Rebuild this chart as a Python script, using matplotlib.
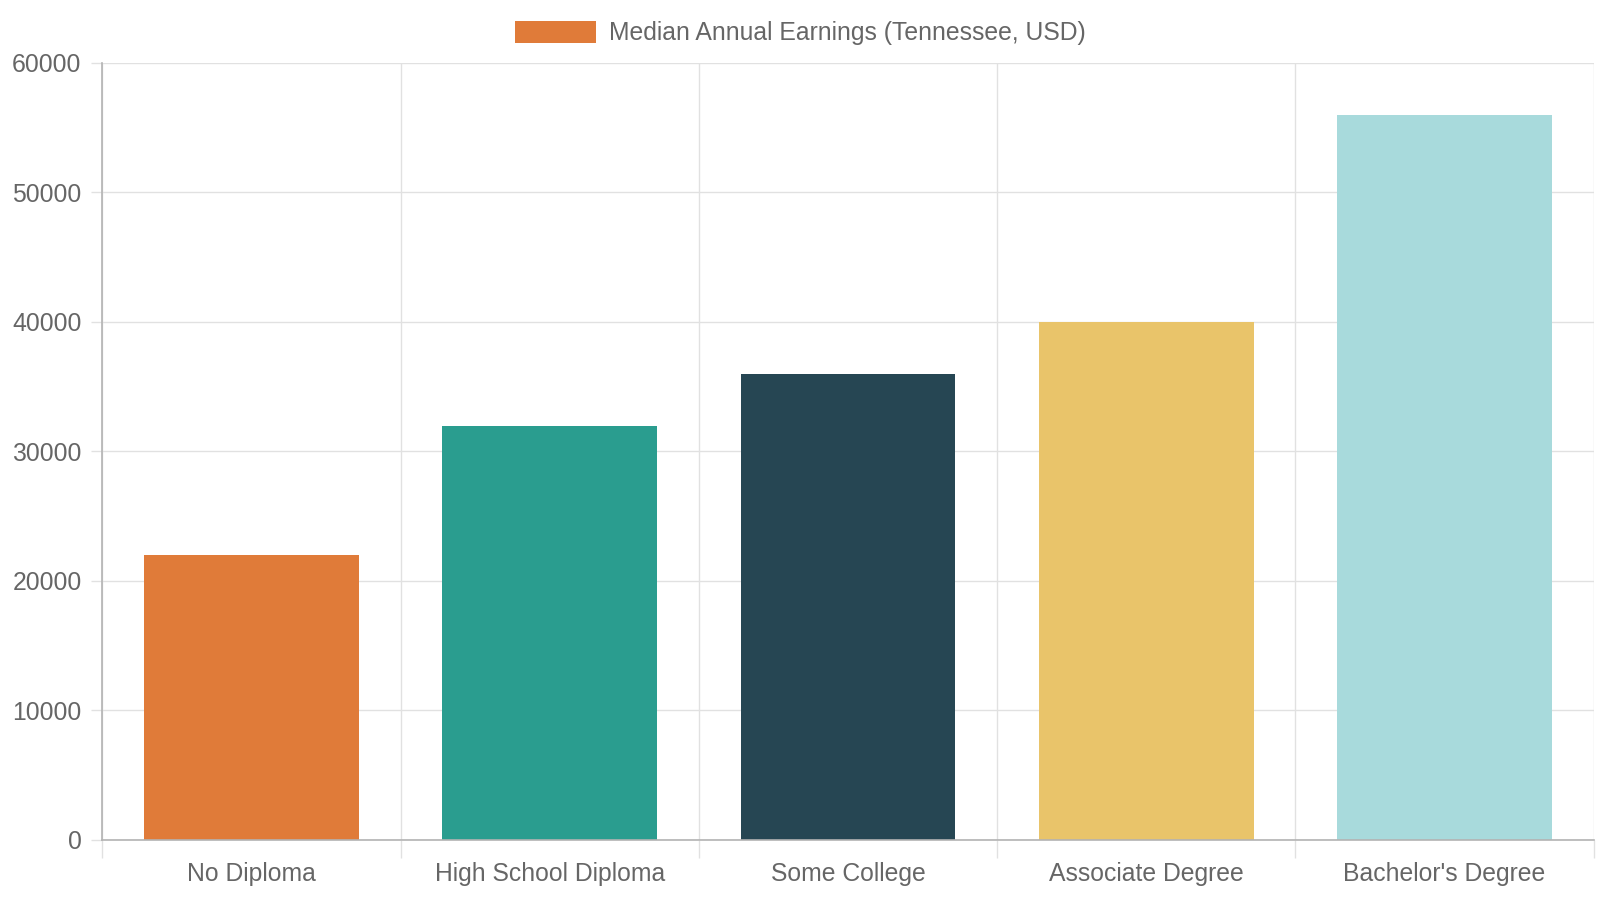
import matplotlib.pyplot as plt
from matplotlib.patches import Patch

categories = ["No Diploma", "High School Diploma", "Some College", "Associate Degree", "Bachelor's Degree"]
earnings = [22000, 32000, 36000, 40000, 56000]
colors = ["#E07B39", "#2A9D8F", "#264653", "#E9C46A", "#A8DADC"]
series_label = "Median Annual Earnings (Tennessee, USD)"
y_ticks = [0, 10000, 20000, 30000, 40000, 50000, 60000]

plt.rcParams['font.family'] = ['Liberation Sans', 'DejaVu Sans']
txt = "#666666"
grid = "#e1e1e1"
axis_c = "#b3b3b3"
fs = 17.8

fig = plt.figure(figsize=(16, 9), dpi=100)
ax = fig.add_axes([0.064, 0.0667, 0.932, 0.8633])

x = range(len(categories))
ax.bar(x, earnings, width=0.72, color=colors, zorder=3)

ax.set_xlim(-0.5, len(categories) - 0.5)
ax.set_ylim(0, 60000)

ax.set_yticks(y_ticks)
ax.set_yticklabels([str(v) for v in y_ticks])
ax.set_xticks(list(x))
ax.set_xticklabels(categories)
ax.set_xticks([i - 0.5 for i in range(len(categories) + 1)], minor=True)

ax.tick_params(axis='x', which='major', length=0, pad=16, labelsize=fs, labelcolor=txt)
ax.tick_params(axis='x', which='minor', length=13, width=1, color=grid)
ax.tick_params(axis='y', length=8, width=1, color=grid, pad=7, labelsize=fs, labelcolor=txt)

ax.grid(axis='y', color=grid, linewidth=1, zorder=0)
ax.grid(axis='x', which='minor', color=grid, linewidth=1, zorder=0)

for s in ['top', 'right']:
    ax.spines[s].set_visible(False)
ax.spines['left'].set_color(axis_c)
ax.spines['bottom'].set_color(axis_c)
ax.spines['left'].set_linewidth(1.2)
ax.spines['bottom'].set_linewidth(1.2)
ax.spines['left'].set_zorder(4)
ax.spines['bottom'].set_zorder(4)

handle = Patch(facecolor=colors[0], edgecolor='none')
leg = fig.legend([handle], [series_label], loc='center', bbox_to_anchor=(0.5, 0.9635),
                 frameon=False, fontsize=fs, handlelength=3.3, handleheight=1.0,
                 handletextpad=0.5, labelcolor=txt)

fig.savefig("out.png", dpi=100, facecolor="white")
